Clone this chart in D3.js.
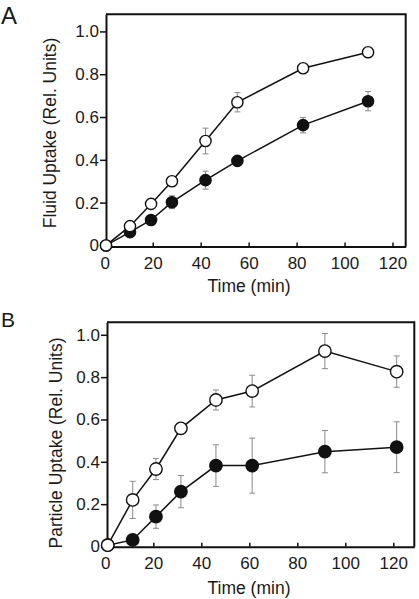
<!DOCTYPE html>
<html>
<head>
<meta charset="utf-8">
<script src="https://cdn.jsdelivr.net/npm/d3@7"></script>
<style>
html,body{margin:0;padding:0;background:#fff;}
svg{display:block;font-family:"Liberation Sans",Arial,Helvetica,sans-serif;}
</style>
</head>
<body>
<svg id="chart" width="419" height="599"></svg>
<script>
// ---------- Data ----------
// Panel A: fluid uptake
const timeA = [0.5, 10.5, 19.3, 28, 42, 55.3, 82.7, 109.8];
const fluidOpen = [0, 0.09, 0.194, 0.30, 0.488, 0.669, 0.828, 0.903];
const fluidOpenErr = [0, 0.01, 0.01, 0.01, 0.06, 0.045, 0.01, 0.01];
const fluidFilled = [0, 0.062, 0.119, 0.202, 0.305, 0.395, 0.562, 0.674];
const fluidFilledErr = [0, 0.01, 0.01, 0.03, 0.042, 0.01, 0.036, 0.045];
// Panel B: particle uptake
const timeB = [1, 11.4, 21.1, 31.5, 46.1, 61.2, 91.5, 121.4];
const particleOpen = [0.006, 0.22, 0.366, 0.558, 0.692, 0.734, 0.923, 0.826];
const particleOpenErr = [0, 0.088, 0.05, 0.01, 0.047, 0.075, 0.083, 0.074];
const particleFilled = [0.006, 0.031, 0.141, 0.259, 0.382, 0.382, 0.448, 0.469];
const particleFilledErr = [0, 0.01, 0.055, 0.076, 0.098, 0.13, 0.1, 0.12];
// Tick labels
const xTicks = [0, 20, 40, 60, 80, 100, 120];
const yTicks = [0, 0.2, 0.4, 0.6, 0.8, 1.0];
const yTickLabels = ["0", "0.2", "0.4", "0.6", "0.8", "1.0"];

const svg = d3.select("#chart");
const TXT = "#1a1a1a";

function panel(cfg) {
  const g = svg.append("g");
  const x = d3.scaleLinear().domain(cfg.xDomain).range([cfg.left, cfg.right]);
  const y = d3.scaleLinear().domain(cfg.yDomain).range([cfg.bottom, cfg.top]);

  // box (top & right)
  g.append("path")
    .attr("d", `M${cfg.left},${cfg.top}H${cfg.right}V${cfg.bottom}`)
    .attr("fill", "none").attr("stroke", "#111").attr("stroke-width", 2);

  // x axis (ticks pointing inward)
  const xa = g.append("g").attr("transform", `translate(0,${cfg.bottom})`)
    .call(d3.axisBottom(x).tickValues(xTicks).tickSizeInner(-4).tickSizeOuter(0).tickPadding(10).tickFormat(d3.format("d")));
  xa.select(".domain").attr("stroke", "#111").attr("stroke-width", 2);
  xa.selectAll(".tick line").attr("stroke", "#111").attr("stroke-width", 1.5);
  xa.selectAll(".tick text").attr("font-size", 17).attr("fill", TXT).attr("font-family", "Liberation Sans, Arial, sans-serif");

  // y axis (ticks outward)
  const ya = g.append("g").attr("transform", `translate(${cfg.left},0)`)
    .call(d3.axisLeft(y).tickValues(yTicks).tickSizeInner(6).tickSizeOuter(0).tickPadding(1)
      .tickFormat((d, i) => yTickLabels[i]));
  ya.select(".domain").attr("stroke", "#111").attr("stroke-width", 2);
  ya.selectAll(".tick line").attr("stroke", "#111").attr("stroke-width", 1.5);
  ya.selectAll(".tick text").attr("font-size", 17).attr("fill", TXT).attr("font-family", "Liberation Sans, Arial, sans-serif");

  // axis titles
  g.append("text").attr("x", cfg.xTitleX).attr("y", cfg.xTitleY)
    .attr("text-anchor", "middle").attr("font-size", 17.5).attr("fill", TXT).text("Time (min)");
  g.append("text")
    .attr("transform", `translate(${cfg.yTitleX},${cfg.yTitleY}) rotate(-90)`)
    .attr("text-anchor", "middle").attr("font-size", 17.5).attr("fill", TXT).text(cfg.yTitle);

  // panel letter
  g.append("text").attr("x", cfg.letterX).attr("y", cfg.letterY)
    .attr("font-size", cfg.letterSize).attr("fill", TXT).text(cfg.letter);

  const series = [
    {vals: cfg.filled, err: cfg.filledErr, fill: "#111"},
    {vals: cfg.open, err: cfg.openErr, fill: "#fff"}
  ];
  const line = d3.line().x(d => x(d.t)).y(d => y(d.v));

  // error bars
  series.forEach(s => {
    const pts = cfg.time.map((t, i) => ({t, v: s.vals[i], e: s.err[i]})).filter(d => d.e > 0);
    const eb = g.append("g").attr("stroke", "#8a8a8a").attr("stroke-width", 1).attr("fill", "none");
    eb.selectAll("path").data(pts).join("path")
      .attr("d", d => {
        const cx = x(d.t), y1 = y(d.v + d.e), y2 = y(d.v - d.e);
        return `M${cx},${y1}V${y2}M${cx - 3},${y1}H${cx + 3}M${cx - 3},${y2}H${cx + 3}`;
      });
  });
  // lines
  series.forEach(s => {
    const pts = cfg.time.map((t, i) => ({t, v: s.vals[i]}));
    g.append("path").datum(pts).attr("d", line)
      .attr("fill", "none").attr("stroke", "#111").attr("stroke-width", 1.5);
  });
  // markers
  series.forEach(s => {
    const pts = cfg.time.map((t, i) => ({t, v: s.vals[i]}));
    g.append("g").selectAll("circle").data(pts).join("circle")
      .attr("cx", d => x(d.t)).attr("cy", d => y(d.v)).attr("r", cfg.r)
      .attr("fill", s.fill).attr("stroke", "#111").attr("stroke-width", 1.4);
  });
}

panel({
  left: 106, right: 405.7, top: 14.3, bottom: 246.5,
  xDomain: [0.5, 125.5], yDomain: [-0.005, 1.08],
  time: timeA, open: fluidOpen, openErr: fluidOpenErr, filled: fluidFilled, filledErr: fluidFilledErr,
  r: 5.6,
  xTitleX: 249, xTitleY: 292, yTitleX: 56, yTitleY: 133,
  yTitle: "Fluid Uptake (Rel. Units)",
  letter: "A", letterX: 1, letterY: 24, letterSize: 24
});

panel({
  left: 107, right: 414.3, top: 322.3, bottom: 546.7,
  xDomain: [0.7, 128.75], yDomain: [-0.001, 1.059],
  time: timeB, open: particleOpen, openErr: particleOpenErr, filled: particleFilled, filledErr: particleFilledErr,
  r: 6.2,
  xTitleX: 249, xTitleY: 594, yTitleX: 62, yTitleY: 443,
  yTitle: "Particle Uptake (Rel. Units)",
  letter: "B", letterX: 1, letterY: 327, letterSize: 21
});
</script>
</body>
</html>
